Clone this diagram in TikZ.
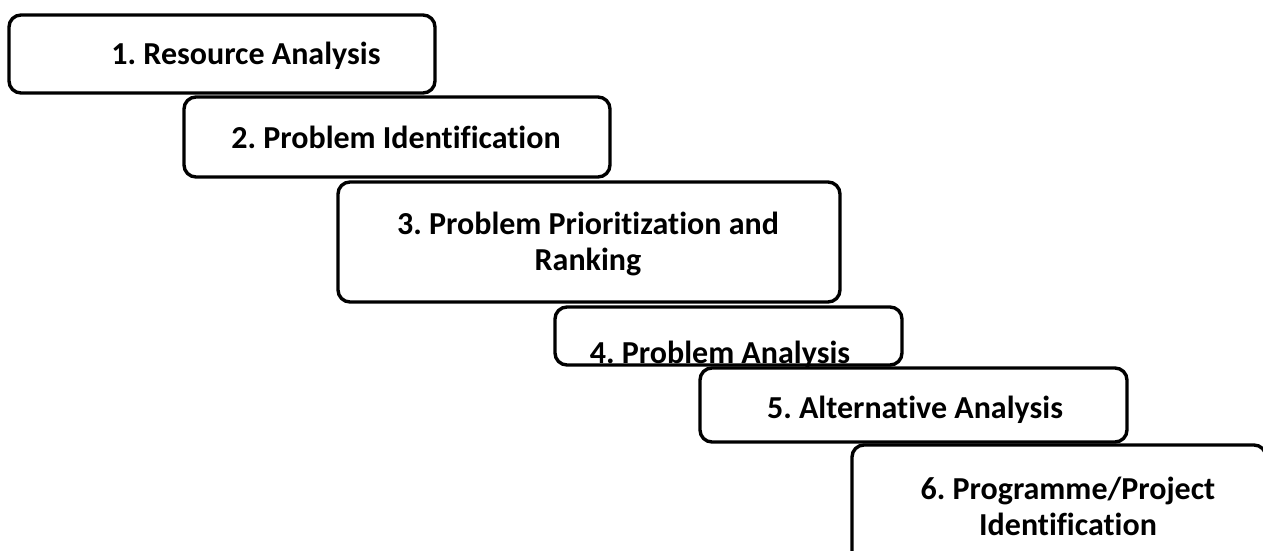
\documentclass[tikz,border=0pt]{standalone}
\usepackage{fontspec}
\setmainfont{Carlito}[Ligatures=NoCommon]
\frenchspacing
\begin{document}
\begin{tikzpicture}[x=1pt,y=-1pt,
  stepbox/.style={draw, line width=3.4pt, rounded corners=12pt, inner sep=0pt},
  steptext/.style={font=\fontsize{32}{36}\selectfont\bfseries, inner sep=0pt, align=center}]
\useasboundingbox (0,0) rectangle (1263,551);
\clip (0,0) rectangle (1263,551);

% Boxes
\node[stepbox, minimum width=426pt, minimum height=78pt] (b1) at (222,54) {};
\node[stepbox, minimum width=426pt, minimum height=80pt] (b2) at (397,137) {};
\node[stepbox, minimum width=502pt, minimum height=120pt] (b3) at (589,242) {};
\node[stepbox, minimum width=347pt, minimum height=58pt] (b4) at (728.5,336) {};
\node[stepbox, minimum width=427pt, minimum height=74pt] (b5) at (913.5,405) {};
\node[stepbox, minimum width=414pt, minimum height=120pt] (b6) at (1059,505) {};

% Labels
\node[steptext, anchor=base] (t1) at (246,65) {1. Resource Analysis};
\node[steptext, anchor=base] (t2) at (396,148) {2. Problem Identification};
\node[steptext] (t3) at (588,244) {3. Problem Prioritization and\\ Ranking};
\node[steptext, anchor=base] (t4) at (720,363) {4. Problem Analysis};
\node[steptext, anchor=base] (t5) at (915,418) {5. Alternative Analysis};
\node[steptext] (t6) at (1068,506) {6. Programme/Project\\ Identification};

\end{tikzpicture}
\end{document}
